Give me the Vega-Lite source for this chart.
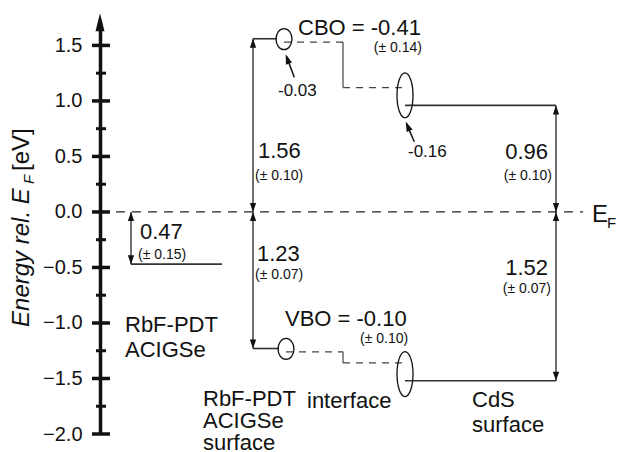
{
  "$schema": "https://vega.github.io/schema/vega-lite/v6.json",
  "width": 520,
  "height": 413,
  "autosize": {"type": "none"},
  "padding": {"left": 100, "top": 21, "right": 0, "bottom": 18},
  "background": "white",
  "config": {"view": {"stroke": null}, "font": "Liberation Sans"},
  "datasets": {
    "hlines": [
      {"x": 31, "x2": 122, "y": -0.47},
      {"x": 153, "x2": 177, "y": 1.56},
      {"x": 153, "x2": 179, "y": -1.23},
      {"x": 305, "x2": 456, "y": 0.96},
      {"x": 305, "x2": 456, "y": -1.52}
    ],
    "vlines": [
      {"x": 31, "y": 0, "y2": -0.47},
      {"x": 153, "y": 1.56, "y2": -1.23},
      {"x": 456, "y": 0.96, "y2": -1.52}
    ],
    "conn": [
      {"x": 243, "y": 1.53, "y2": 1.12},
      {"x": 243, "y": -1.26, "y2": -1.36}
    ],
    "dashes": [
      {"x": 184, "x2": 243, "y": 1.53},
      {"x": 243, "x2": 304, "y": 1.12},
      {"x": 186, "x2": 243, "y": -1.26},
      {"x": 243, "x2": 305, "y": -1.36}
    ],
    "ef": [{"x": 0, "x2": 483, "y": 0}],
    "up": [
      {"x": 31, "y": 0},
      {"x": 153, "y": 1.56},
      {"x": 153, "y": 0},
      {"x": 456, "y": 0.96},
      {"x": 456, "y": 0}
    ],
    "down": [
      {"x": 31, "y": -0.47},
      {"x": 153, "y": 0},
      {"x": 153, "y": -1.23},
      {"x": 456, "y": 0},
      {"x": 456, "y": -1.52}
    ],
    "axisHead": [{"x": 0, "y": 1.79}],
    "majorTicks": [
      {"x": 1, "y": -2}, {"x": 1, "y": -1.5}, {"x": 1, "y": -1}, {"x": 1, "y": -0.5},
      {"x": 1, "y": 0}, {"x": 1, "y": 0.5}, {"x": 1, "y": 1}, {"x": 1, "y": 1.5}
    ],
    "minorTicks": [
      {"x": 1, "y": -1.75}, {"x": 1, "y": -1.25}, {"x": 1, "y": -0.75}, {"x": 1, "y": -0.25},
      {"x": 1, "y": 0.25}, {"x": 1, "y": 0.75}, {"x": 1, "y": 1.25}
    ],
    "ellSmall": [{"x": 184, "y": 1.557}, {"x": 186, "y": -1.234}],
    "ellBig": [{"x": 305, "y": 1.05}, {"x": 305, "y": -1.46}],
    "ann": [
      {"x": 194.3, "y": 1.214, "x2": 186.5, "y2": 1.40},
      {"x": 314.3, "y": 0.633, "x2": 306.5, "y2": 0.795}
    ],
    "annHead1": [{"x": 185.7, "y": 1.421}],
    "annHead2": [{"x": 305.7, "y": 0.814}],
    "tBig": [
      {"x": 40, "y": -0.243, "label": "0.47"},
      {"x": 157, "y": -0.441, "label": "1.23"},
      {"x": 158, "y": 0.486, "label": "1.56"},
      {"x": 198, "y": 1.595, "label": "CBO = -0.41"},
      {"x": 185, "y": -1.027, "label": "VBO = -0.10"},
      {"x": 25, "y": -1.081, "label": "RbF-PDT"},
      {"x": 25, "y": -1.306, "label": "ACIGSe"},
      {"x": 103, "y": -1.748, "label": "RbF-PDT"},
      {"x": 103, "y": -1.946, "label": "ACIGSe"},
      {"x": 103, "y": -2.144, "label": "surface"},
      {"x": 207, "y": -1.766, "label": "interface"},
      {"x": 372, "y": -1.757, "label": "CdS"},
      {"x": 372, "y": -1.982, "label": "surface"}
    ],
    "tBigR": [
      {"x": 448, "y": 0.477, "label": "0.96"},
      {"x": 448, "y": -0.568, "label": "1.52"}
    ],
    "tSmall": [
      {"x": 38, "y": -0.423, "label": "(± 0.15)"},
      {"x": 155, "y": -0.604, "label": "(± 0.07)"},
      {"x": 155, "y": 0.288, "label": "(± 0.10)"},
      {"x": 260, "y": -1.18, "label": "(± 0.10)"}
    ],
    "tSmallR": [
      {"x": 322, "y": 1.441, "label": "(± 0.14)"},
      {"x": 452, "y": 0.288, "label": "(± 0.10)"},
      {"x": 451, "y": -0.73, "label": "(± 0.07)"}
    ],
    "tMid": [
      {"x": 178, "y": 1.045, "label": "-0.03"},
      {"x": 308, "y": 0.495, "label": "-0.16"}
    ],
    "tE": [{"x": 492, "y": -0.09, "label": "E"}],
    "tF": [{"x": 507, "y": -0.144, "label": "F"}],
    "title1": [{"x": -71.5, "y": -1.036, "label": "Energy rel. E"}],
    "title2": [{"x": -66, "y": 0.252, "label": "F"}],
    "title3": [{"x": -71.5, "y": 0.369, "label": "[eV]"}]
  },
  "encoding": {
    "x": {"field": "x", "type": "quantitative", "scale": {"domain": [0, 520], "nice": false, "zero": false}, "axis": null},
    "y": {
      "field": "y", "type": "quantitative",
      "scale": {"domain": [-2, 1.72], "nice": false, "zero": false},
      "axis": {
        "values": [-2, -1.5, -1, -0.5, 0, 0.5, 1, 1.5],
        "format": ".1f", "ticks": false, "tickSize": 0, "labelPadding": 18,
        "labelFont": "Liberation Sans", "labelFontSize": 20, "labelColor": "#111",
        "labelFlush": false, "labelOverlap": false, "labelBound": false,
        "domain": true, "domainWidth": 3.5, "domainColor": "#111",
        "grid": false, "title": null
      }
    }
  },
  "layer": [
    {"data": {"name": "ef"}, "mark": {"type": "rule", "color": "#222", "strokeWidth": 1.3, "strokeDash": [9, 7]}, "encoding": {"x2": {"field": "x2"}}},
    {"data": {"name": "dashes"}, "mark": {"type": "rule", "color": "#444", "strokeWidth": 1.3, "strokeDash": [7, 6]}, "encoding": {"x2": {"field": "x2"}}},
    {"data": {"name": "conn"}, "mark": {"type": "rule", "color": "#444", "strokeWidth": 1.2}, "encoding": {"y2": {"field": "y2"}}},
    {"data": {"name": "hlines"}, "mark": {"type": "rule", "color": "#333", "strokeWidth": 1.6}, "encoding": {"x2": {"field": "x2"}}},
    {"data": {"name": "vlines"}, "mark": {"type": "rule", "color": "#111", "strokeWidth": 1.2}, "encoding": {"y2": {"field": "y2"}}},
    {"data": {"name": "ann"}, "mark": {"type": "rule", "color": "#111", "strokeWidth": 1.5}, "encoding": {"x2": {"field": "x2"}, "y2": {"field": "y2"}}},
    {"data": {"name": "majorTicks"}, "mark": {"type": "tick", "orient": "horizontal", "color": "#111", "size": 18, "thickness": 3.5, "opacity": 1}},
    {"data": {"name": "minorTicks"}, "mark": {"type": "tick", "orient": "horizontal", "color": "#111", "size": 10, "thickness": 3, "opacity": 1}},
    {"data": {"name": "axisHead"}, "mark": {"type": "point", "shape": "M0,0L0.25,1L-0.25,1Z", "size": 1296, "filled": true, "color": "#111", "opacity": 1, "strokeWidth": 0}},
    {"data": {"name": "up"}, "mark": {"type": "point", "shape": "M0,0L0.35,1L-0.35,1Z", "size": 324, "filled": true, "color": "#111", "opacity": 1, "strokeWidth": 0}},
    {"data": {"name": "down"}, "mark": {"type": "point", "shape": "M0,0L0.35,-1L-0.35,-1Z", "size": 324, "filled": true, "color": "#111", "opacity": 1, "strokeWidth": 0}},
    {"data": {"name": "annHead1"}, "mark": {"type": "point", "shape": "M0,0L0.32,1L-0.32,1Z", "size": 400, "angle": 341, "filled": true, "color": "#111", "opacity": 1, "strokeWidth": 0}},
    {"data": {"name": "annHead2"}, "mark": {"type": "point", "shape": "M0,0L0.32,1L-0.32,1Z", "size": 400, "angle": 337, "filled": true, "color": "#111", "opacity": 1, "strokeWidth": 0}},
    {"data": {"name": "ellSmall"}, "mark": {"type": "point", "shape": "M0.76,0C0.76,0.552,0.42,1,0,1C-0.42,1,-0.76,0.552,-0.76,0C-0.76,-0.552,-0.42,-1,0,-1C0.42,-1,0.76,-0.552,0.76,0Z", "size": 441, "filled": false, "color": "#111", "opacity": 1, "strokeWidth": 1.3}},
    {"data": {"name": "ellBig"}, "mark": {"type": "point", "shape": "M0.356,0C0.356,0.552,0.196,1,0,1C-0.196,1,-0.356,0.552,-0.356,0C-0.356,-0.552,-0.196,-1,0,-1C0.196,-1,0.356,-0.552,0.356,0Z", "size": 2025, "filled": false, "color": "#111", "opacity": 1, "strokeWidth": 1.3}},
    {"data": {"name": "tBig"}, "mark": {"type": "text", "align": "left", "baseline": "alphabetic", "font": "Liberation Sans", "fontSize": 22, "color": "#111"}, "encoding": {"text": {"field": "label"}}},
    {"data": {"name": "tBigR"}, "mark": {"type": "text", "align": "right", "baseline": "alphabetic", "font": "Liberation Sans", "fontSize": 22, "color": "#111"}, "encoding": {"text": {"field": "label"}}},
    {"data": {"name": "tSmall"}, "mark": {"type": "text", "align": "left", "baseline": "alphabetic", "font": "Liberation Sans", "fontSize": 14, "color": "#111"}, "encoding": {"text": {"field": "label"}}},
    {"data": {"name": "tSmallR"}, "mark": {"type": "text", "align": "right", "baseline": "alphabetic", "font": "Liberation Sans", "fontSize": 14, "color": "#111"}, "encoding": {"text": {"field": "label"}}},
    {"data": {"name": "tMid"}, "mark": {"type": "text", "align": "left", "baseline": "alphabetic", "font": "Liberation Sans", "fontSize": 17, "color": "#111"}, "encoding": {"text": {"field": "label"}}},
    {"data": {"name": "tE"}, "mark": {"type": "text", "align": "left", "baseline": "alphabetic", "font": "Liberation Sans", "fontSize": 24, "color": "#111"}, "encoding": {"text": {"field": "label"}}},
    {"data": {"name": "tF"}, "mark": {"type": "text", "align": "left", "baseline": "alphabetic", "font": "Liberation Sans", "fontSize": 15, "color": "#111"}, "encoding": {"text": {"field": "label"}}},
    {"data": {"name": "title1"}, "mark": {"type": "text", "align": "left", "baseline": "alphabetic", "angle": 270, "font": "Liberation Sans", "fontStyle": "italic", "fontSize": 24, "color": "#111"}, "encoding": {"text": {"field": "label"}}},
    {"data": {"name": "title2"}, "mark": {"type": "text", "align": "left", "baseline": "alphabetic", "angle": 270, "font": "Liberation Sans", "fontStyle": "italic", "fontSize": 15, "color": "#111"}, "encoding": {"text": {"field": "label"}}},
    {"data": {"name": "title3"}, "mark": {"type": "text", "align": "left", "baseline": "alphabetic", "angle": 270, "font": "Liberation Sans", "fontSize": 24, "color": "#111"}, "encoding": {"text": {"field": "label"}}}
  ]
}
